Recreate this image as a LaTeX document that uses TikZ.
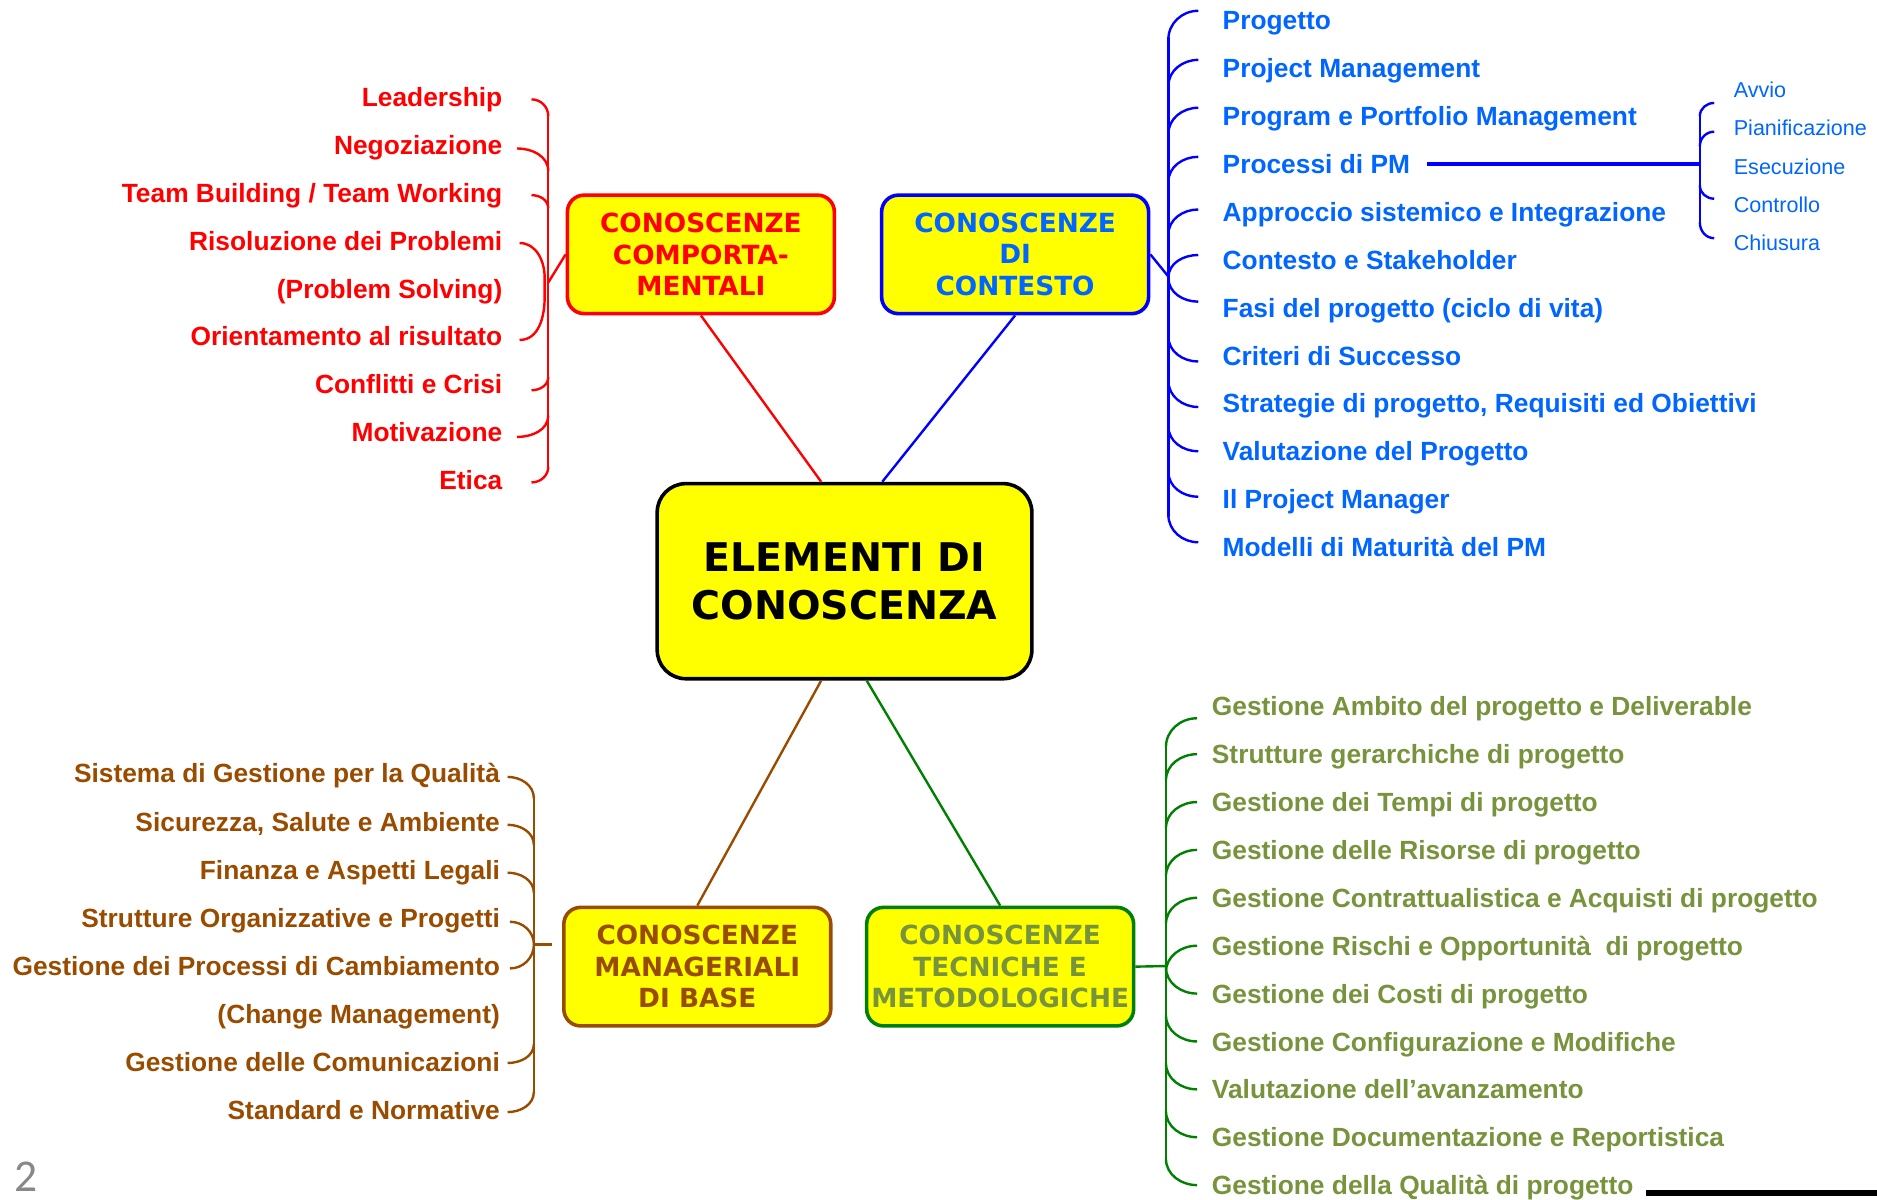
\documentclass[tikz,border=0pt]{standalone}
\usepackage{fontspec}
\setmainfont{Liberation Sans}
\newfontfamily\boxfont{DejaVu Sans}
\newfontfamily\pagenumfont{Carlito}
\usetikzlibrary{calc}
\definecolor{kyellow}{RGB}{255,255,0}
\definecolor{kred}{RGB}{255,0,0}
\definecolor{kblue}{RGB}{0,0,255}
\definecolor{kbluetext}{RGB}{0,102,255}
\definecolor{kbrown}{RGB}{153,76,0}
\definecolor{kgreen}{RGB}{0,128,0}
\definecolor{kgreentext}{RGB}{119,147,60}
\definecolor{kgray}{RGB}{136,136,136}
\begin{document}
\begin{tikzpicture}[x=0.5pt,y=-0.5pt,
  hub/.style={draw=black, fill=kyellow, line width=1.5pt, rounded corners=12pt,
    minimum width=156.5pt, minimum height=81.5pt, align=center, inner sep=0pt,
    font=\boxfont\bfseries\fontsize{16.5}{20}\selectfont},
  area/.style={fill=kyellow, line width=1.5pt, rounded corners=7pt,
    minimum width=111.5pt, minimum height=49.5pt, align=center, inner sep=0pt,
    font=\boxfont\bfseries\fontsize{11}{13.25}\selectfont},
  itemR/.style={anchor=base east, inner sep=0pt, font=\bfseries\fontsize{11}{13}\selectfont},
  itemL/.style={anchor=base west, inner sep=0pt, font=\bfseries\fontsize{11}{13}\selectfont},
  subitem/.style={anchor=base west, inner sep=0pt, font=\fontsize{9}{11}\selectfont},
  link/.style={line width=1pt},
  brace/.style={line width=1pt}]
\useasboundingbox (0,0) rectangle (1568,1002);

% central topic and the four areas
\node[hub] (elem) at (705.5,485.5) {ELEMENTI DI\\CONOSCENZA};
\node[area, draw=kred, text=kred] (comp) at (585.5,212.5) {CONOSCENZE\\COMPORTA-\\MENTALI};
\node[area, draw=kblue, text=kbluetext] (cont) at (848,212.5) {CONOSCENZE\\DI\\CONTESTO};
\node[area, draw=kbrown, text=kbrown] (mana) at (582.5,807.5) {CONOSCENZE\\MANAGERIALI\\DI BASE};
\node[area, draw=kgreen, text=kgreentext] (tecn) at (835.5,807.5) {CONOSCENZE\\TECNICHE E\\METODOLOGICHE};

\draw[link, kred]   ($(elem.north)+(-19.5,0)$) -- (comp.south);
\draw[link, kblue]  ($(elem.north)+(31.5,0)$)  -- (cont.south);
\draw[link, kbrown] ($(elem.south)+(-19.5,0)$) -- (mana.north);
\draw[link, kgreen] ($(elem.south)+(18.5,0)$)  -- (tecn.north);

% behavioural competences
\foreach \t [count=\i from 0] in {Leadership, Negoziazione, Team Building / Team Working,
    Risoluzione dei Problemi, (Problem Solving), Orientamento al risultato,
    Conflitti e Crisi, Motivazione, Etica}
  \node[itemR, text=kred] (r\i) at (420,{89+40*\i}) {\t};
\coordinate (rj) at (458,236);
\begin{scope}[brace, kred]
  \draw (458,95) -- (458,390);
  \draw (444,83) to[out=0,in=90] (458,97);
  \draw (432,124) to[out=0,in=90] (458,143);
  \draw (444,163) to[out=0,in=90] (458,174);
  \draw (434,203) to[out=0,in=90] (455,232) -- (455,248);
  \draw (434,284) to[out=0,in=-90] (455,248);
  \draw (444,326) to[out=0,in=-90] (458,315);
  \draw (432,365) to[out=0,in=-90] (458,347);
  \draw (444,403) to[out=0,in=-90] (458,390);
  \draw (comp.west) -- (rj);
\end{scope}

% context competences
\foreach \t [count=\i from 0] in {Progetto, Project Management, Program e Portfolio Management,
    Processi di PM, Approccio sistemico e Integrazione, Contesto e Stakeholder,
    Fasi del progetto (ciclo di vita), Criteri di Successo,
    {Strategie di progetto, Requisiti ed Obiettivi}, Valutazione del Progetto,
    Il Project Manager, Modelli di Maturità del PM}
  \node[itemL, text=kbluetext] (b\i) at (1021,{25+40*\i}) {\t};
\coordinate (bj) at (976,231);
\begin{scope}[brace, kblue]
  \draw (976,31) -- (976,432);
  \foreach \s/\e in {33/9, 72/50, 112/90, 152/131, 196/175, 232/213}
    \draw (976,\s) to[out=90,in=180] (1001,\e);
  \foreach \s/\e in {232/252, 281/302, 318/340, 356/377, 394/415, 430/453}
    \draw (976,\s) to[out=-90,in=180] (1001,\e);
  \draw (cont.east) -- (bj);
\end{scope}

% process groups
\foreach \t [count=\i from 0] in {Avvio, Pianificazione, Esecuzione, Controllo, Chiusura}
  \node[subitem, text=kbluetext] (s\i) at (1448,{81.5+32*\i}) {\t};
\coordinate (pj) at (1420,137);
\begin{scope}[brace, kblue]
  \draw[line width=1.3pt] ($(b3.base east)+(14,-8)$) -- (pj);
  \draw (1420,96) -- (1420,187);
  \draw (1420,97) to[out=90,in=180] (1432,86);
  \draw (1420,122) to[out=90,in=180] (1432,110);
  \draw (1420,155) to[out=-90,in=180] (1432,166);
  \draw (1420,186) to[out=-90,in=180] (1432,199);
\end{scope}

% managerial competences
\foreach \t [count=\i from 0] in {Sistema di Gestione per la Qualità, {Sicurezza, Salute e Ambiente},
    Finanza e Aspetti Legali, Strutture Organizzative e Progetti,
    Gestione dei Processi di Cambiamento, (Change Management),
    Gestione delle Comunicazioni, Standard e Normative}
  \node[itemR, text=kbrown] (m\i) at (418,{654+40.2*\i}) {\t};
\coordinate (mj) at (446,789);
\begin{scope}[brace, kbrown]
  \draw (446,666) -- (446,913);
  \draw (424,649) to[out=0,in=90] (446,667);
  \draw (424,689) to[out=0,in=90] (446,706);
  \draw (424,729) to[out=0,in=90] (446,746);
  \draw (426,770) to[out=0,in=90] (446,789);
  \draw (426,809) to[out=0,in=-90] (446,789);
  \draw (424,888) to[out=0,in=-90] (446,872);
  \draw (424,929) to[out=0,in=-90] (446,912);
  \draw[shorten >=4pt] (mj) -- (mj -| mana.west);
\end{scope}

% technical and methodological competences
\foreach \t [count=\i from 0] in {Gestione Ambito del progetto e Deliverable,
    Strutture gerarchiche di progetto, Gestione dei Tempi di progetto,
    Gestione delle Risorse di progetto, Gestione Contrattualistica e Acquisti di progetto,
    Gestione Rischi e Opportunità~ di progetto, Gestione dei Costi di progetto,
    Gestione Configurazione e Modifiche, Valutazione dell’avanzamento,
    Gestione Documentazione e Reportistica, Gestione della Qualità di progetto}
  \node[itemL, text=kgreentext] (g\i) at (1012,{598+40*\i}) {\t};
\coordinate (gj) at (974,807);
\begin{scope}[brace, kgreen]
  \draw (974,620) -- (974,968);
  \draw (974,624) to[out=90,in=180] (1000,600);
  \foreach \k in {1,...,5}
    \draw (974,{612+40*\k}) to[out=90,in=180] (1000,{590+40*\k});
  \foreach \k in {6,...,10}
    \draw (974,{568+40*\k}) to[out=-90,in=180] (1000,{590+40*\k});
  \draw (tecn.east) -- (gj);
\end{scope}

% page number and footer rule
\node[text=kgray, font=\pagenumfont\fontsize{19}{19}\selectfont, inner sep=0pt] (pnum) at (22,983) {2};
\coordinate (ruleA) at (1375,996.5);
\coordinate (ruleB) at (1568,996.5);
\draw[line width=2.5pt, black] (ruleA) -- (ruleB);
\end{tikzpicture}
\end{document}
